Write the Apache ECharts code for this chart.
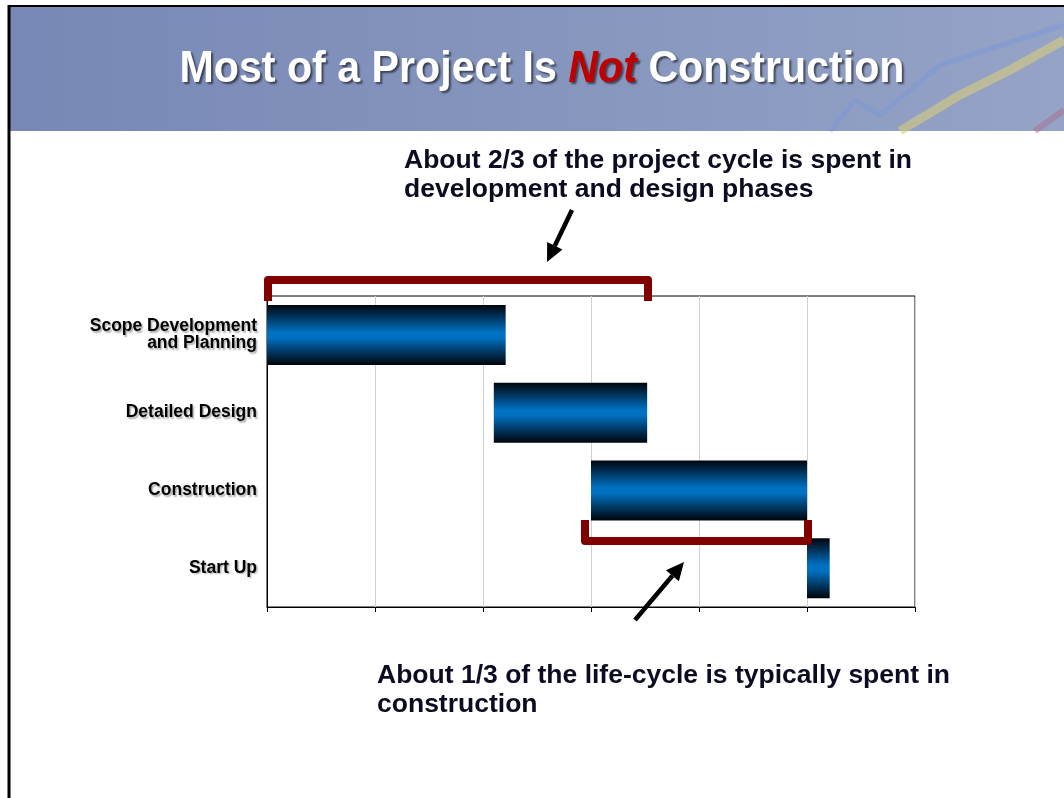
<!DOCTYPE html>
<html>
<head>
<meta charset="utf-8">
<script src="https://cdn.jsdelivr.net/npm/echarts@6/dist/echarts.min.js"></script>
<style>
  html, body { margin: 0; padding: 0; background: #fff; }
  #main { width: 1064px; height: 798px; }
</style>
</head>
<body>
<div id="main"></div>
<script>
// phases, top to bottom
var categories = ["Scope Development\nand Planning", "Detailed Design", "Construction", "Start Up"];
// start point and length of each phase (grid units, 6 units across)
var startValues = [0, 2.1, 3.0, 5.0];
var durationValues = [2.21, 1.42, 2.0, 0.21];

var FONT = "Arial, 'Liberation Sans', Helvetica, sans-serif";

// measure text width to squeeze/stretch text like the slide does
function textWidth(txt, font) {
  var c = document.createElement("canvas").getContext("2d");
  c.font = font;
  return c.measureText(txt).width;
}

// arrow = shaft + head
function arrow(x1, y1, x2, y2) {
  var ang = Math.atan2(y2 - y1, x2 - x1);
  var hl = 18, hw = 8.5;
  var bx = x2 - hl * Math.cos(ang), by = y2 - hl * Math.sin(ang);
  var px = -Math.sin(ang) * hw, py = Math.cos(ang) * hw;
  return [
    { type: "line", shape: { x1: x1, y1: y1, x2: bx, y2: by }, style: { stroke: "#000", lineWidth: 4.5 }, z: 20 },
    { type: "polygon", shape: { points: [[x2, y2], [bx + px, by + py], [bx - px, by - py]] }, style: { fill: "#000" }, z: 20 }
  ];
}

var myChart = echarts.init(document.getElementById("main"));

var titleFont = "bold 44px " + FONT;
var titleScale = 725 / textWidth("Most of a Project Is Not Construction", titleFont);

var noteFont = "bold 25px " + FONT;
var note1Scale = 508 / textWidth("About 2/3 of the project cycle is spent in", noteFont);
var note2Scale = 573 / textWidth("About 1/3 of the life-cycle is typically spent in", noteFont);

var graphics = [
  // header band
  {
    type: "rect", shape: { x: 9, y: 6, width: 1060, height: 125 }, z: 0,
    style: {
      fill: new echarts.graphic.LinearGradient(0, 0, 1, 0, [
        { offset: 0, color: "#7888b6" },
        { offset: 0.5, color: "#8595bd" },
        { offset: 1, color: "#95a3c6" }
      ])
    }
  },
  // faint chart-ish lines in header background
  { type: "polyline", shape: { points: [[900, 131], [960, 95], [1010, 70], [1064, 40]] }, style: { stroke: "rgba(215,205,125,0.6)", lineWidth: 9 }, z: 1 },
  { type: "polyline", shape: { points: [[830, 131], [855, 100], [880, 115], [940, 65], [1064, 25]] }, style: { stroke: "rgba(120,150,220,0.45)", lineWidth: 5 }, z: 1 },
  { type: "polyline", shape: { points: [[1035, 131], [1064, 110]] }, style: { stroke: "rgba(170,110,140,0.5)", lineWidth: 6 }, z: 1 },
  // slide border
  { type: "line", shape: { x1: 8, y1: 6, x2: 1064, y2: 6 }, style: { stroke: "#000", lineWidth: 2 }, z: 5 },
  { type: "line", shape: { x1: 9, y1: 5, x2: 9, y2: 798 }, style: { stroke: "#000", lineWidth: 3 }, z: 5 },
  // title
  {
    type: "text", x: 542, y: 70, scaleX: titleScale, z: 10,
    style: {
      text: "{w|Most of a Project Is }{r|Not}{w| Construction}",
      textAlign: "center", textVerticalAlign: "middle",
      rich: {
        w: { fill: "#fff", font: titleFont, textShadowColor: "rgba(0,0,0,0.55)", textShadowOffsetX: 2, textShadowOffsetY: 2, textShadowBlur: 2 },
        r: { fill: "#c00000", font: "italic " + titleFont, textShadowColor: "rgba(0,0,0,0.55)", textShadowOffsetX: 2, textShadowOffsetY: 2, textShadowBlur: 2 }
      }
    }
  },
  // annotations
  {
    type: "text", x: 404, y: 147, scaleX: note1Scale, z: 10,
    style: { text: "About 2/3 of the project cycle is spent in\ndevelopment and design phases", font: noteFont, fill: "#0b0b22", lineHeight: 29 }
  },
  {
    type: "text", x: 377, y: 662, scaleX: note2Scale, z: 10,
    style: { text: "About 1/3 of the life-cycle is typically spent in\nconstruction", font: noteFont, fill: "#0b0b22", lineHeight: 29 }
  },
  // brackets
  { type: "polyline", shape: { points: [[268, 301], [268, 280], [648, 280], [648, 301]] }, style: { stroke: "#800000", lineWidth: 8, lineJoin: "round" }, z: 15 },
  { type: "polyline", shape: { points: [[585, 520], [585, 541], [808, 541], [808, 520]] }, style: { stroke: "#800000", lineWidth: 8, lineJoin: "round" }, z: 15 }
].concat(arrow(572, 210, 547, 262)).concat(arrow(635, 620, 684, 562));

var barGradient = new echarts.graphic.LinearGradient(0, 0, 0, 1, [
  { offset: 0, color: "#00040c" },
  { offset: 0.45, color: "#0070c0" },
  { offset: 0.55, color: "#0070c0" },
  { offset: 1, color: "#00040c" }
]);

var option = {
  backgroundColor: "#fff",
  animation: false,
  grid: {
    left: 267, right: 149, top: 296, bottom: 191,
    show: true, borderColor: "#000", borderWidth: 1, backgroundColor: "transparent"
  },
  xAxis: {
    type: "value", min: 0, max: 6, interval: 1,
    axisLine: { show: true, lineStyle: { color: "#000", width: 1 } },
    axisTick: { show: true, length: 5, lineStyle: { color: "#000" } },
    axisLabel: { show: false },
    splitLine: { show: true, lineStyle: { color: "#d0d0d0", width: 1 } }
  },
  yAxis: {
    type: "category", inverse: true, data: categories,
    axisLine: { show: true, lineStyle: { color: "#000", width: 1 } },
    axisTick: { show: false },
    axisLabel: {
      margin: 10, align: "right",
      fontFamily: FONT, fontWeight: "bold", fontSize: 17.5, lineHeight: 17, color: "#000",
      textShadowColor: "rgba(0,0,0,0.3)", textShadowOffsetX: 1.5, textShadowOffsetY: 1.5, textShadowBlur: 1.5
    }
  },
  series: [
    {
      type: "bar", stack: "g", data: startValues, barWidth: 60,
      itemStyle: { color: "transparent" }, silent: true
    },
    {
      type: "bar", stack: "g", data: durationValues, barWidth: 60,
      itemStyle: { color: barGradient }
    }
  ],
  graphic: graphics
};

myChart.setOption(option, true);
</script>
</body>
</html>
